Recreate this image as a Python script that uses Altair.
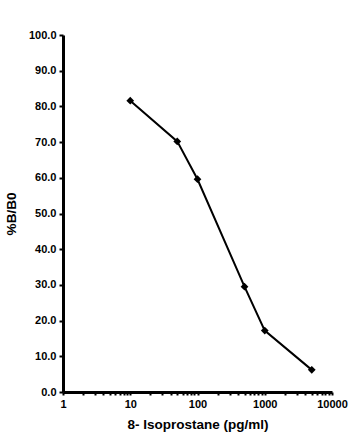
import altair as alt
import pandas as pd

conc = [10, 50, 100, 500, 1000, 5000]
bb0 = [81.6, 70.2, 59.6, 29.5, 17.2, 6.2]

x_ticks = [m * d for d in [1, 10, 100, 1000] for m in range(1, 10)] + [10000]
y_ticks = [0, 10, 20, 30, 40, 50, 60, 70, 80, 90, 100]

df = pd.DataFrame({"conc": conc, "bb0": bb0})

FONT = "Liberation Sans"

x = alt.X("conc:Q", scale=alt.Scale(type="log", domain=[1, 10000], nice=False),
          axis=alt.Axis(title="8- Isoprostane (pg/ml)", values=x_ticks,
                        labelExpr="indexof(['1','10','100','1000','10000'], format(datum.value, 'd')) >= 0 ? format(datum.value, 'd') : ''",
                        tickSize=3, tickWidth=2, tickColor="black",
                        domainWidth=3, domainColor="black",
                        labelFontSize=11, labelFontWeight="bold", labelColor="black",
                        labelFont=FONT, labelPadding=3, labelFlush=False, labelOverlap=False,
                        titleFontSize=13.5, titleFont=FONT, titleFontWeight="bold",
                        titleColor="black", titlePadding=8, grid=False))
y = alt.Y("bb0:Q", scale=alt.Scale(domain=[0, 100], nice=False),
          axis=alt.Axis(title="%B/B0", values=y_ticks, format=".1f",
                        tickSize=4, tickWidth=2, tickColor="black",
                        domainWidth=3, domainColor="black",
                        labelFontSize=11, labelFontWeight="bold", labelColor="black",
                        labelFont=FONT, labelPadding=3,
                        titleFontSize=13.5, titleFont=FONT, titleFontWeight="bold",
                        titleColor="black", titlePadding=10, grid=False))

line = alt.Chart(df).mark_line(color="black", strokeWidth=2).encode(x=x, y=y)
pts = alt.Chart(df).mark_point(shape="diamond", filled=True, color="black", size=60, opacity=1).encode(x=x, y=y)

chart = (line + pts).properties(
    width=269, height=357,
    autosize=alt.AutoSizeParams(type="none"),
    padding={"left": 63, "top": 35, "right": 26, "bottom": 46},
    background="white",
).configure_view(stroke=None)

chart.save("out.html", embed_options={"renderer": "svg", "actions": False})
